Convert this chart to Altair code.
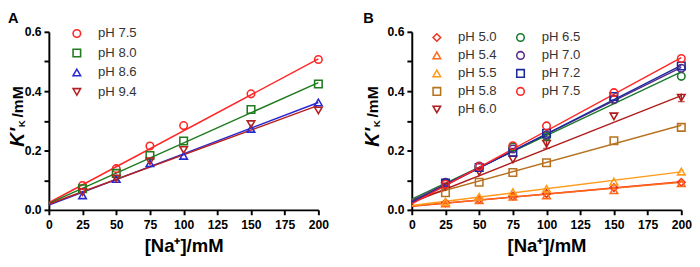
import altair as alt
import pandas as pd

FONT = "Liberation Sans, Arial, Helvetica, sans-serif"

# Shared x values ([Na+] in mM) and fit-line ends
na_mm = [25, 50, 75, 100, 150, 200]
line_x = [0, 200]
x_ticks = [0, 25, 50, 75, 100, 125, 150, 175, 200]
y_ticks = [0.0, 0.1, 0.2, 0.3, 0.4, 0.5, 0.6]

# ---------------- Panel A ----------------
a_series = ["pH 7.5", "pH 8.0", "pH 8.6", "pH 9.4"]
a_colors = ["#ff2626", "#1e7b1e", "#2828d2", "#b52222"]
a_shapes = ["circle", "square", "triangle-up", "triangle-down"]
a_ph75 = [0.082, 0.139, 0.215, 0.284, 0.391, 0.507]
a_ph80 = [0.071, 0.123, 0.183, 0.232, 0.338, 0.424]
a_ph86 = [0.049, 0.104, 0.157, 0.182, 0.273, 0.362]
a_ph94 = [0.060, 0.106, 0.164, 0.202, 0.289, 0.335]
a_line_start = [0.024, 0.022, 0.016, 0.020]
a_line_end = [0.509, 0.429, 0.362, 0.352]

# ---------------- Panel B ----------------
b_series = ["pH 5.0", "pH 5.4", "pH 5.5", "pH 5.8", "pH 6.0",
            "pH 6.5", "pH 7.0", "pH 7.2", "pH 7.5"]
b_colors = ["#ee3322", "#ff6a1a", "#ff9a1a", "#b87320", "#b01c1c",
            "#1a7a2a", "#5a2a8a", "#1c2a9a", "#ff2626"]
b_shapes = ["diamond", "triangle-up", "triangle-up", "square", "triangle-down",
            "circle", "circle", "square", "circle"]
b_ph50 = [0.024, 0.036, 0.046, 0.055, 0.075, 0.093]
b_ph54 = [0.022, 0.033, 0.044, 0.049, 0.066, 0.090]
b_ph55 = [0.027, 0.044, 0.060, 0.071, 0.095, 0.129]
b_ph58 = [0.058, 0.093, 0.126, 0.159, 0.233, 0.278]
b_ph60 = [0.079, 0.128, 0.170, 0.223, 0.315, 0.378]
b_ph65 = [0.088, 0.146, 0.212, 0.247, 0.371, 0.450]
b_ph70 = [0.093, 0.148, 0.205, 0.252, 0.373, 0.477]
b_ph72 = [0.090, 0.143, 0.194, 0.258, 0.382, 0.485]
b_ph75 = [0.086, 0.146, 0.216, 0.283, 0.395, 0.510]
b_line_start = [0.012, 0.013, 0.015, 0.035, 0.025, 0.036, 0.030, 0.025, 0.020]
b_line_end = [0.095, 0.093, 0.128, 0.285, 0.385, 0.465, 0.480, 0.487, 0.513]
# error bars (pH 6.0)
err_x = [100, 200]
err_lo = [0.207, 0.365]
err_hi = [0.238, 0.392]
err_color = "#b01c1c"


def panel(label, series, colors, shapes, values, starts, ends,
          legend_x, legend_y, columns, row_pad, col_pad, title_dx, errs=None):
    pts = pd.DataFrame([{"s": s, "x": xv, "y": yv}
                        for s, vals in zip(series, values)
                        for xv, yv in zip(na_mm, vals)])

    x_axis = alt.Axis(values=x_ticks, title="[Na⁺]/mM", grid=False,
                      labelFont=FONT, labelFontWeight="bold", labelFontSize=12.5,
                      labelColor="black", labelFlush=False, labelOverlap=False,
                      labelPadding=4, tickSize=5, tickWidth=2, tickColor="black",
                      domainWidth=2, domainColor="black",
                      titleFont=FONT, titleFontSize=19, titleFontWeight="bold",
                      titleColor="black", titlePadding=6)
    y_axis = alt.Axis(values=y_ticks, title=None, grid=False,
                      labelExpr="(round(datum.value*10) % 2 == 0) ? format(datum.value, '.1f') : ''",
                      labelFont=FONT, labelFontWeight="bold", labelFontSize=12.5,
                      labelColor="black", labelFlush=False, labelOverlap=False,
                      labelPadding=3, tickSize=5, tickWidth=2, tickColor="black",
                      domainWidth=2, domainColor="black")
    yscale = alt.Scale(domain=[0, 0.6], nice=False)
    xs = alt.X("x:Q", scale=alt.Scale(domain=[0, 200], nice=False), axis=x_axis)
    ys = alt.Y("y:Q", scale=yscale, axis=y_axis)

    leg = alt.Legend(orient="none", legendX=legend_x, legendY=legend_y, title=None,
                     columns=columns, labelFont=FONT, labelFontSize=13.5,
                     labelColor="#333333", symbolSize=60, symbolStrokeWidth=1.6,
                     rowPadding=row_pad, columnPadding=col_pad, labelOffset=15, padding=0)
    color_l = alt.Color("s:N", scale=alt.Scale(domain=series, range=colors), legend=leg)
    shape_l = alt.Shape("s:N", scale=alt.Scale(domain=series, range=shapes), legend=leg)

    layers = []
    for s, c, a, b in zip(series, colors, starts, ends):
        ldf = pd.DataFrame({"x": line_x, "y": [a, b]})
        layers.append(alt.Chart(ldf).mark_line(strokeWidth=1.5, color=c).encode(x=xs, y=ys))
    if errs is not None:
        edf = pd.DataFrame({"x": errs[0], "lo": errs[1], "hi": errs[2]})
        ey = alt.Y("lo:Q", scale=yscale, axis=y_axis)
        layers.append(alt.Chart(edf).mark_rule(strokeWidth=1.5, color=errs[3]).encode(
            x=xs, y=ey, y2="hi:Q"))
        layers.append(alt.Chart(edf).mark_tick(thickness=1.5, size=7, orient="horizontal",
                                               color=errs[3]).encode(x=xs, y=ey))
    layers.append(alt.Chart(pts).mark_point(filled=False, strokeWidth=1.6, size=60, opacity=1).encode(
        x=xs, y=ys, color=color_l, shape=shape_l))

    one = alt.Data(values=[{"a": 1}])
    layers.append(alt.Chart(one).mark_text(
        text="K′", angle=270, font=FONT, fontSize=20, fontStyle="italic",
        fontWeight="bold", align="left", baseline="alphabetic", color="black"
    ).encode(x=alt.value(title_dx), y=alt.value(118)))
    layers.append(alt.Chart(one).mark_text(
        text="K", angle=270, font=FONT, fontSize=10, fontWeight="bold",
        align="left", baseline="alphabetic", color="black"
    ).encode(x=alt.value(title_dx + 1), y=alt.value(98)))
    layers.append(alt.Chart(one).mark_text(
        text="/mM", angle=270, font=FONT, fontSize=16, fontWeight="bold",
        align="left", baseline="alphabetic", color="black"
    ).encode(x=alt.value(title_dx - 1), y=alt.value(88)))

    return alt.layer(*layers).properties(
        width=277, height=183,
        title=alt.TitleParams(label, anchor="start", fontSize=15, fontWeight="bold",
                              font=FONT, offset=0, color="black"))


chart_a = panel("A", a_series, a_colors, a_shapes,
                [a_ph75, a_ph80, a_ph86, a_ph94], a_line_start, a_line_end,
                legend_x=22, legend_y=-5, columns=1, row_pad=5, col_pad=26, title_dx=-26)
chart_b = panel("B", b_series, b_colors, b_shapes,
                [b_ph50, b_ph54, b_ph55, b_ph58, b_ph60, b_ph65, b_ph70, b_ph72, b_ph75],
                b_line_start, b_line_end,
                legend_x=19, legend_y=-1, columns=2, row_pad=3.5, col_pad=16, title_dx=-34,
                errs=(err_x, err_lo, err_hi, err_color))

chart = alt.hconcat(chart_a, chart_b, spacing=96, bounds="flush").resolve_scale(
    color="independent", shape="independent"
).configure_view(stroke=None).properties(padding=0)

chart.save("out.html", embed_options={"renderer": "svg", "actions": False})
